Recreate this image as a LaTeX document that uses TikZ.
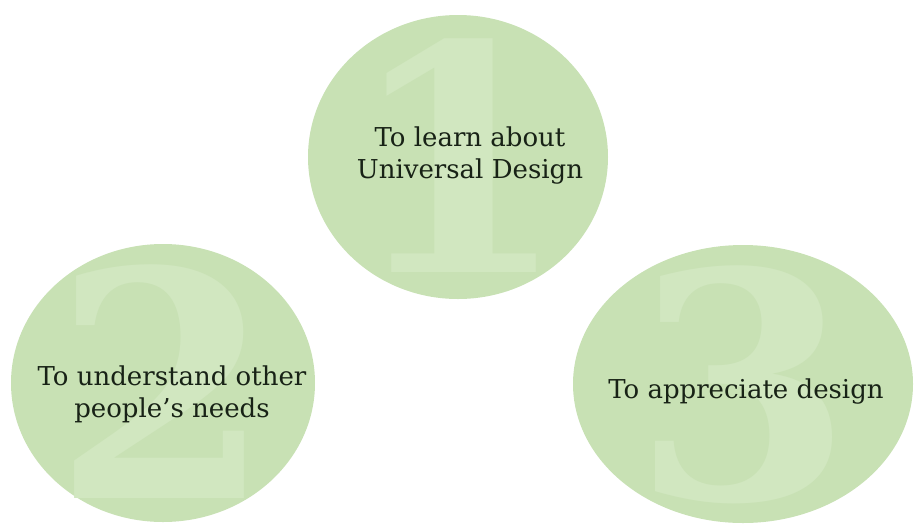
\documentclass[tikz,border=0pt]{standalone}
\usepackage{fontspec}
\setmainfont{DejaVu Serif}
\usetikzlibrary{shapes.geometric}

\definecolor{leaf}{RGB}{200,225,180}
\definecolor{leafnum}{RGB}{209,231,192}
\definecolor{ink}{RGB}{24,34,22}

\tikzset{
	goal/.style={ellipse, fill=leaf, inner sep=0pt},
	bignum/.style={text=leafnum, inner sep=0pt, text height=230pt, text depth=0pt,
		font=\fontsize{315}{315}\selectfont\bfseries},
	goaltext/.style={text=ink, align=center, font=\fontsize{26}{32}\selectfont}
}

\begin{document}
\begin{tikzpicture}[x=1pt, y=-1pt]

	\useasboundingbox (0, 0) rectangle (916, 531);

	% the three goals, with their faint numbers
	\foreach \i/\cx/\cy/\rx/\ry in {1/458/157/150/142, 2/163/383/152/139, 3/743/384/170/139} {
		\node (g\i) [goal, minimum width={2*\rx pt}, minimum height={2*\ry pt}] at (\cx, \cy) {};
		\node (n\i) [bignum] at (g\i) {\i};
	}

	\node (t1) [goaltext] at (470, 156) {To learn about\\Universal Design};
	\node (t2) [goaltext] at (172, 394) {To understand other\\people's needs};
	\node (t3) [goaltext] at (746, 392) {To appreciate design};

\end{tikzpicture}
\end{document}
